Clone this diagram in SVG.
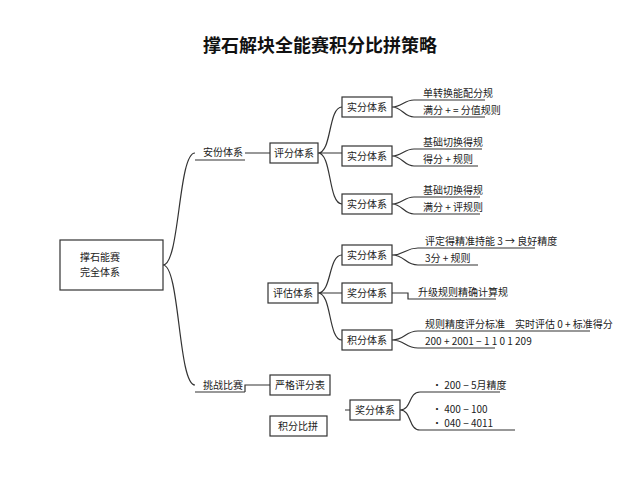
<svg xmlns="http://www.w3.org/2000/svg" width="640" height="480" viewBox="0 0 640 480">
<style>
.t{font-family:"Noto Sans CJK SC","Noto Sans",sans-serif;font-size:10px;fill:#222}
.b{fill:#fff;stroke:#333;stroke-width:1.2}
.c{fill:none;stroke:#333;stroke-width:1.2}
</style>
<rect width="640" height="480" fill="#fff"/>
<text x="320" y="52" text-anchor="middle" style="font-family:'Noto Sans CJK SC',sans-serif;font-size:18px;font-weight:bold;fill:#111">撑石解块全能赛积分比拼策略</text>
<g id="connectors" class="c">
<path d="M163 265 C180 265 178 153 195 153 M163 265 C180 265 178 385 195 385"/>
<path d="M195 160 H245 M245 153 H270"/>
<path d="M318 153 C332 153 328 107 342 107 M318 153 H342 M318 153 C332 153 328 204 342 204"/>
<path d="M392 107 C402 107 404 100 414 100 H485 M392 107 C402 107 404 117 414 117 H485"/>
<path d="M392 156 C402 156 404 149 414 149 H482 M392 156 C402 156 404 166 414 166 H478"/>
<path d="M392 204 C402 204 404 197 414 197 H480 M392 204 C402 204 404 214 414 214 H480"/>
<path d="M318 293 C332 293 328 255 342 255 M318 293 H342 M318 293 C332 293 328 340 342 340"/>
<path d="M392 255 C405 255 405 248 418 248 H535 M392 255 C405 255 405 265 418 265 H478"/>
<path d="M392 293 H408 V299 H496"/>
<path d="M392 340 C405 340 405 331 418 331 H590 M392 340 C405 340 405 348 418 348 H495"/>
<path d="M195 392 H245 M245 392 V385 H270"/>
<path d="M345 410 H350 M400 410 C412 410 408 392 420 392 H500 M400 410 C412 410 408 430 420 430 H515"/>
</g>
<g id="root"><rect class="b" x="60" y="240" width="103" height="50"/><text class="t" x="80" y="261">撑石能赛</text><text class="t" x="80" y="276">完全体系</text></g>
<g id="n1"><text class="t" x="203" y="156">安份体系</text></g>
<g id="n2"><rect class="b" x="270" y="143" width="48" height="20"/><text class="t" x="294" y="157" text-anchor="middle">评分体系</text></g>
<g id="n3"><rect class="b" x="342" y="97" width="50" height="20"/><text class="t" x="367" y="111" text-anchor="middle">实分体系</text></g>
<g id="n4"><rect class="b" x="342" y="146" width="50" height="20"/><text class="t" x="367" y="160" text-anchor="middle">实分体系</text></g>
<g id="n5"><rect class="b" x="342" y="194" width="50" height="20"/><text class="t" x="367" y="208" text-anchor="middle">实分体系</text></g>
<g id="l1"><text class="t" x="423" y="97">单转换能配分规</text><text class="t" x="423" y="114">满分 + = 分值规则</text></g>
<g id="l2"><text class="t" x="423" y="146">基础切换得规</text><text class="t" x="423" y="163">得分 + 规则</text></g>
<g id="l3"><text class="t" x="423" y="194">基础切换得规</text><text class="t" x="423" y="211">满分 + 评规则</text></g>
<g id="n6"><rect class="b" x="268" y="283" width="50" height="20"/><text class="t" x="293" y="297" text-anchor="middle">评估体系</text></g>
<g id="n7"><rect class="b" x="342" y="245" width="50" height="20"/><text class="t" x="367" y="259" text-anchor="middle">实分体系</text></g>
<g id="n8"><rect class="b" x="342" y="283" width="50" height="20"/><text class="t" x="367" y="297" text-anchor="middle">奖分体系</text></g>
<g id="n9"><rect class="b" x="342" y="330" width="50" height="20"/><text class="t" x="367" y="344" text-anchor="middle">积分体系</text></g>
<g id="l4"><text class="t" x="425" y="245">评定得精准持能 3 → 良好精度</text><text class="t" x="425" y="262">3分 + 规则</text></g>
<g id="l5"><text class="t" x="418" y="296">升级规则精确计算规</text></g>
<g id="l6"><text class="t" x="425" y="328">规则精度评分标准　实时评估 0 + 标准得分</text><text class="t" x="425" y="345">200 + 2001 − 1 1 0 1 209</text></g>
<g id="n10"><text class="t" x="203" y="389">挑战比赛</text></g>
<g id="n11"><rect class="b" x="270" y="375" width="60" height="20"/><text class="t" x="300" y="389" text-anchor="middle">严格评分表</text></g>
<g id="n12"><rect class="b" x="270" y="416" width="57" height="20"/><text class="t" x="298" y="430" text-anchor="middle">积分比拼</text></g>
<g id="n13"><rect class="b" x="350" y="400" width="50" height="20"/><text class="t" x="375" y="414" text-anchor="middle">奖分体系</text></g>
<g id="l7"><text class="t" x="432" y="389">• 200 − 5月精度</text><text class="t" x="432" y="413">• 400 − 100</text><text class="t" x="432" y="427">• 040 − 4011</text></g>
</svg>
